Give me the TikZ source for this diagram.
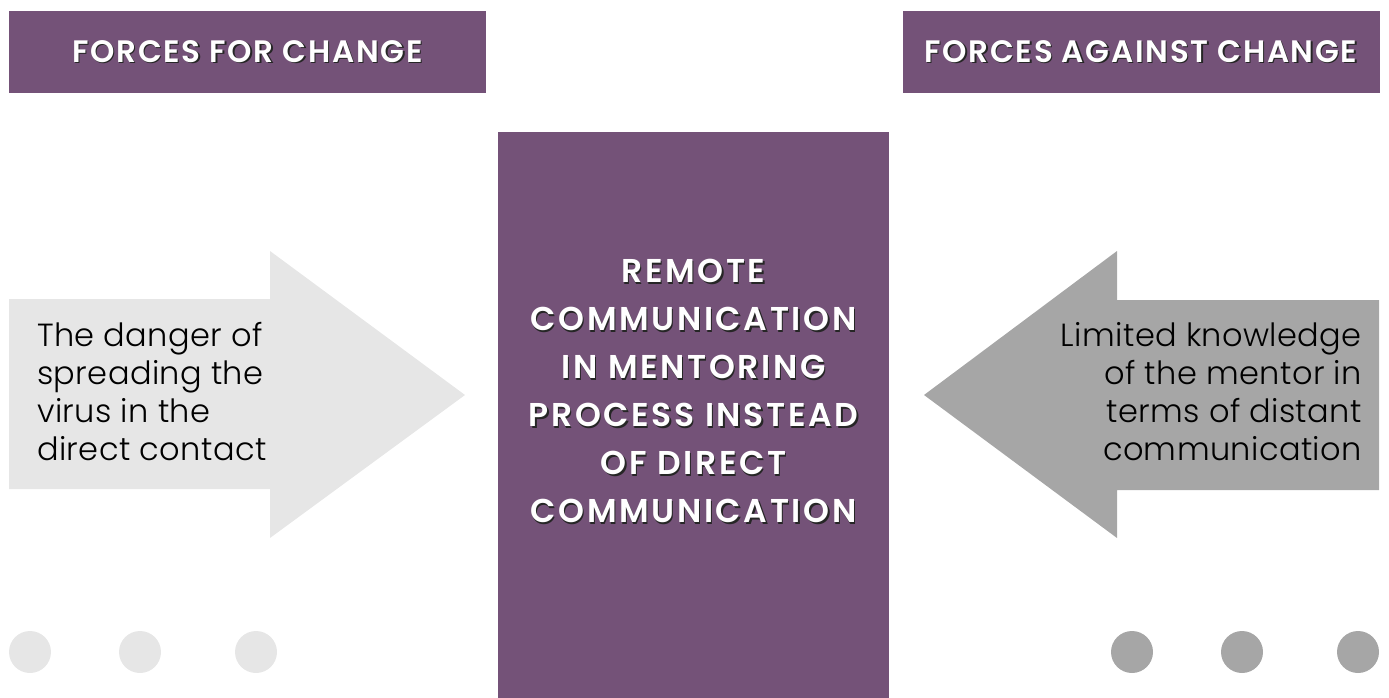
\documentclass[tikz,border=0pt]{standalone}
\usepackage{fontspec}
\IfFontExistsTF{Poppins Light}{\setmainfont{Poppins Light}[LetterSpace=1.2]}{\setmainfont{Poppins}[LetterSpace=1.2]}
\IfFontExistsTF{Poppins SemiBold}{\newfontfamily\headfont{Poppins SemiBold}[LetterSpace=5.5]\newfontfamily\centfont{Poppins SemiBold}[LetterSpace=8]}{\newfontfamily\headfont{Poppins}[UprightFont=*-Bold,LetterSpace=5.5]\newfontfamily\centfont{Poppins}[UprightFont=*-Bold,LetterSpace=8]}
\definecolor{purp}{RGB}{116,82,120}
\definecolor{lgrey}{RGB}{230,230,230}
\definecolor{dgrey}{RGB}{166,166,166}
\newcommand\shd[1]{\rlap{\kern1.4pt\raisebox{-1.4pt}{\color{black!85}#1}}#1}
\tikzset{
  headbox/.style={fill=purp,draw=none,minimum width=477pt,minimum height=82pt,inner sep=0pt,
     text=white,font=\headfont\fontsize{31}{36}\selectfont},
  dot/.style={circle,minimum size=42pt,inner sep=0pt,draw=none},
  bodytext/.style={font=\fontsize{32}{38}\selectfont,text=black,inner sep=0pt},
  centertext/.style={font=\centfont\fontsize{33}{48}\selectfont,text=white,align=center,inner sep=0pt}
}
\begin{document}
\begin{tikzpicture}[x=1pt,y=-1pt]
\useasboundingbox (0,0) rectangle (1389,698);
% headers
\node[headbox] (hfor) at (247.5,52) {\shd{FORCES FOR CHANGE}};
\node[headbox] (hagainst) at (1141,52) {\shd{FORCES AGAINST CHANGE}};
% centre box
\fill[purp] (498,132) rectangle (889,698);
\node[centertext] (centre) at (693.5,392) {\shd{REMOTE}\\\shd{COMMUNICATION}\\\shd{IN MENTORING}\\\shd{PROCESS INSTEAD}\\\shd{OF DIRECT}\\\shd{COMMUNICATION}};
% left arrow
\fill[lgrey] (9,299) -- (270,299) -- (270,251) -- (465,395) -- (270,538) -- (270,489) -- (9,489) -- cycle;
\node[bodytext,align=left,anchor=west] (ltext) at (37,392) {The danger of\\spreading the\\virus in the\\direct contact};
% right arrow
\fill[dgrey] (1379,300) -- (1117,300) -- (1117,251) -- (924,395) -- (1117,538) -- (1117,490) -- (1379,490) -- cycle;
\node[bodytext,align=right,anchor=east] (rtext) at (1362,392) {Limited knowledge\\of the mentor in\\terms of distant\\communication};
% dots
\node[dot,fill=lgrey] (l1) at (30,652) {};
\node[dot,fill=lgrey] (l2) at (140,652) {};
\node[dot,fill=lgrey] (l3) at (256,652) {};
\node[dot,fill=dgrey] (r1) at (1132,652) {};
\node[dot,fill=dgrey] (r2) at (1242,652) {};
\node[dot,fill=dgrey] (r3) at (1358,652) {};
\end{tikzpicture}
\end{document}
